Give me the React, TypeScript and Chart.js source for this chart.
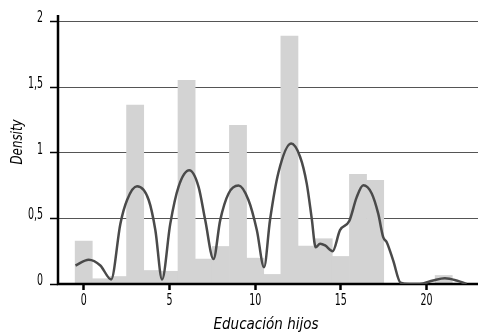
import React, { useEffect, useRef } from "react";
import { Chart, registerables } from "chart.js";

Chart.register(...registerables);

const xTicks = [0, 5, 10, 15, 20];
const xTickLabels = ["0", "5", "10", "15", "20"];
const yTicks = [0, 0.5, 1, 1.5, 2];
const yTickLabels = ["0", "0,5", "1", "1,5", "2"];

const binCenters = [0, 1, 2, 3, 4, 5, 6, 7, 8, 9, 10, 11, 12, 13, 14, 15, 16, 17, 18, 19, 20, 21, 22];
const binDensity = [0.327, 0.04, 0.057, 1.363, 0.103, 0.097, 1.553, 0.19, 0.286, 1.21, 0.197, 0.073, 1.889, 0.289, 0.345, 0.21, 0.836, 0.79, 0, 0, 0, 0.065, 0];

const kdeX = [-0.48, 0.29, 0.97, 1.6, 2.14, 2.53, 3.11, 3.79, 4.18, 4.57, 5.05, 5.53, 6.16, 6.7, 7.09, 7.57, 7.96, 8.45, 9.03, 9.61, 10.1, 10.52, 10.87, 11.36, 12.1, 12.62, 13.01, 13.3, 13.53, 13.79, 14.08, 14.52, 14.95, 15.49, 15.92, 16.31, 16.8, 17.18, 17.47, 17.67, 18.05, 18.48, 19.0, 19.6, 20.38, 21.07, 21.75, 22.33];
const kdeY = [0.141, 0.185, 0.141, 0.035, 0.46, 0.64, 0.744, 0.64, 0.41, 0.035, 0.46, 0.74, 0.866, 0.74, 0.485, 0.19, 0.485, 0.69, 0.75, 0.64, 0.41, 0.128, 0.49, 0.85, 1.07, 0.97, 0.765, 0.5, 0.28, 0.307, 0.294, 0.25, 0.41, 0.48, 0.66, 0.752, 0.69, 0.536, 0.357, 0.32, 0.18, 0.01, 0, 0, 0.027, 0.044, 0.027, 0];

const xTitle = "Educación hijos";
const yTitle = "Density";

const FONT = '"DejaVu Sans Condensed", "DejaVu Sans", sans-serif';

export default function App() {
  const ref = useRef<HTMLCanvasElement | null>(null);

  useEffect(() => {
    if (!ref.current) return;
    const axesPlugin = {
      id: "axesPlugin",
      afterDatasetDraw(chart: any, args: any) {
        if (args.index !== 0) return;
        const { ctx, chartArea } = chart;
        ctx.save();
        ctx.strokeStyle = "#000";
        ctx.lineWidth = 2.5;
        ctx.beginPath();
        ctx.moveTo(chartArea.left, chartArea.top);
        ctx.lineTo(chartArea.left, chartArea.bottom);
        ctx.lineTo(chartArea.right, chartArea.bottom);
        ctx.stroke();
        ctx.restore();
      },
      afterDraw(chart: any) {
        const { ctx, scales } = chart;
        ctx.save();
        ctx.fillStyle = "#000";
        ctx.textBaseline = "middle";
        ctx.font = "15px " + FONT;
        // x tick labels (condensed)
        ctx.textAlign = "center";
        xTicks.forEach((v, i) => {
          const px = scales.x.getPixelForValue(v);
          ctx.save();
          ctx.translate(px, 301);
          ctx.scale(0.7, 1);
          ctx.fillText(xTickLabels[i], 0, 0);
          ctx.restore();
        });
        // y tick labels
        ctx.textAlign = "right";
        yTicks.forEach((v, i) => {
          const py = scales.y.getPixelForValue(v);
          ctx.save();
          ctx.translate(43, py - 3);
          ctx.scale(0.7, 1);
          ctx.fillText(yTickLabels[i], 0, 0);
          ctx.restore();
        });
        // titles
        ctx.textAlign = "center";
        ctx.font = "italic 15px " + FONT;
        ctx.fillText(xTitle, 266, 325);
        ctx.translate(18.5, 142);
        ctx.rotate(-Math.PI / 2);
        ctx.scale(0.88, 1);
        ctx.fillText(yTitle, 0, 0);
        ctx.restore();
      },
    };

    const chart = new Chart(ref.current, {
      type: "bar",
      data: {
        datasets: [
          {
            type: "bar",
            data: binCenters.map((x, i) => ({ x, y: binDensity[i] })),
            backgroundColor: "#d3d3d3",
            borderWidth: 0,
            barPercentage: 1,
            categoryPercentage: 1,
            order: 2,
          } as any,
          {
            type: "line",
            data: kdeX.map((x, i) => ({ x, y: kdeY[i] })),
            borderColor: "#4a4a4a",
            borderWidth: 2.5,
            pointRadius: 0,
            fill: false,
            cubicInterpolationMode: "monotone",
            order: 1,
          } as any,
        ],
      },
      options: {
        animation: false,
        responsive: false,
        maintainAspectRatio: false,
        layout: { padding: { top: 15, right: 0, left: 0, bottom: 0 } },
        plugins: { legend: { display: false }, tooltip: { enabled: false } },
        scales: {
          x: {
            type: "linear",
            min: -1.5,
            max: 23,
            offset: false,
            afterBuildTicks: (s: any) => {
              s.ticks = xTicks.map((v) => ({ value: v }));
            },
            afterFit: (s: any) => {
              s.height = 50;
            },
            grid: {
              display: true,
              offset: false,
              drawOnChartArea: false,
              drawTicks: true,
              tickLength: 6,
              tickColor: "#000",
              tickWidth: 2.5,
            },
            border: { display: false },
            ticks: { display: false },
          },
          y: {
            type: "linear",
            min: 0,
            max: 2.05,
            afterBuildTicks: (s: any) => {
              s.ticks = yTicks.map((v) => ({ value: v }));
            },
            afterFit: (s: any) => {
              s.width = 58;
            },
            grid: {
              display: true,
              offset: false,
              drawOnChartArea: true,
              drawTicks: true,
              tickLength: 8,
              color: "#555",
              lineWidth: 1,
              tickColor: "#000",
              tickWidth: 1.5,
            },
            border: { display: false },
            ticks: { display: false },
          },
        },
      },
      plugins: [axesPlugin],
    });
    return () => chart.destroy();
  }, []);

  return (
    <div style={{ position: "fixed", left: 0, top: 0, width: 478, height: 334, background: "#fff" }}>
      <canvas ref={ref} width={478} height={334} style={{ width: 478, height: 334, display: "block" }} />
    </div>
  );
}
